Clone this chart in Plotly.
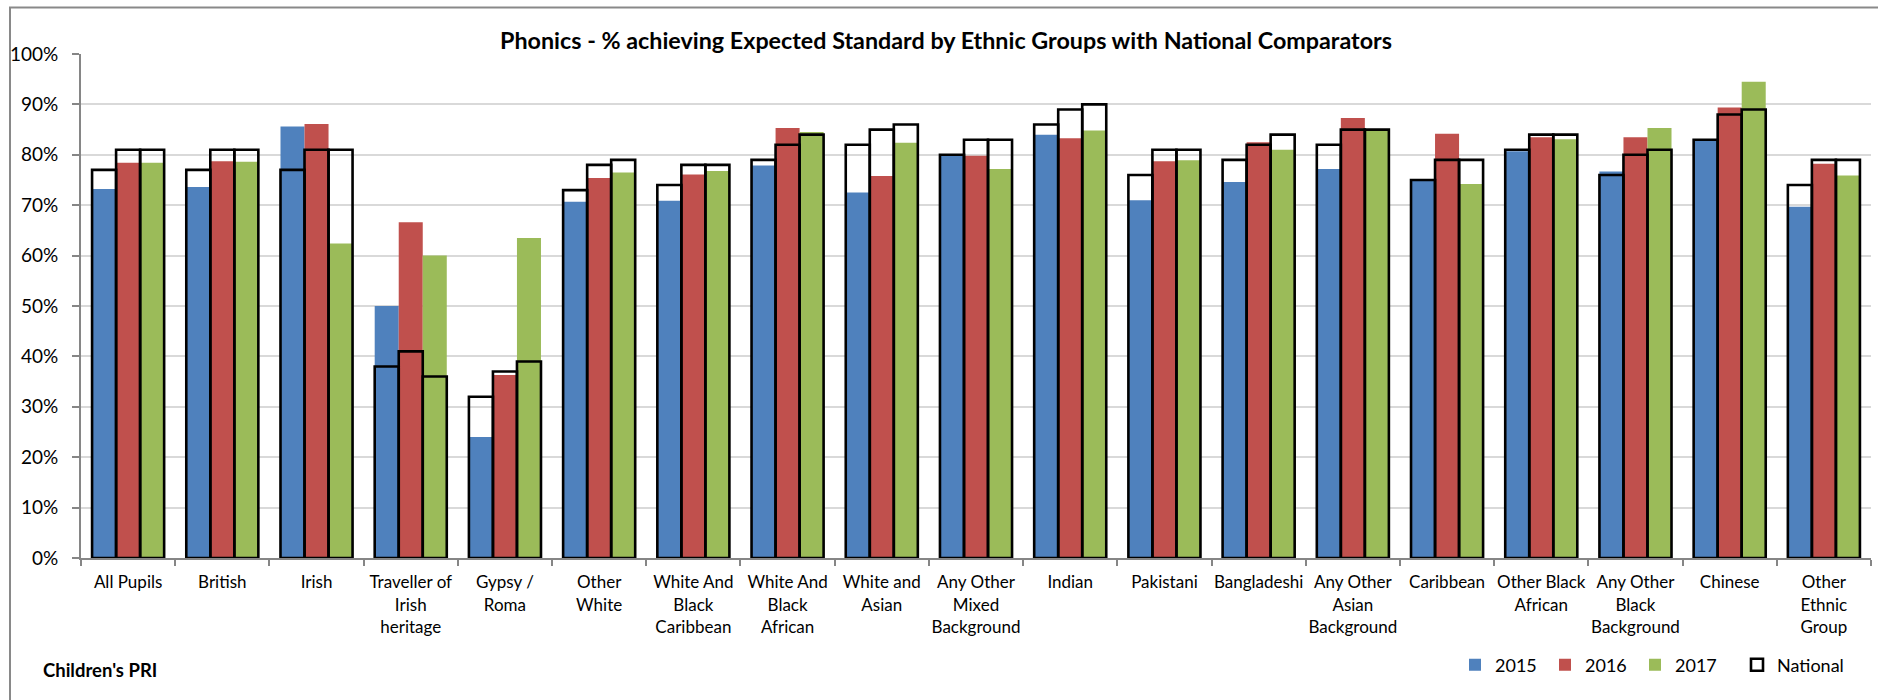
import plotly.graph_objects as go

# Ethnic groups on the category axis (line breaks as shown under each group)
categories = [
    "All Pupils", "British", "Irish", "Traveller of<br>Irish<br>heritage",
    "Gypsy /<br>Roma", "Other<br>White", "White And<br>Black<br>Caribbean",
    "White And<br>Black<br>African", "White and<br>Asian",
    "Any Other<br>Mixed<br>Background", "Indian", "Pakistani", "Bangladeshi",
    "Any Other<br>Asian<br>Background", "Caribbean", "Other Black<br>African",
    "Any Other<br>Black<br>Background", "Chinese", "Other<br>Ethnic<br>Group",
]

years = ["2015", "2016", "2017"]

# Local % achieving the expected standard
local_2015 = [73.2, 73.6, 85.6, 50.0, 24.0, 70.7, 70.9, 77.9, 72.5, 80.0,
              84.0, 71.0, 74.6, 77.2, 75.2, 80.7, 76.7, 83.0, 69.7]
local_2016 = [78.4, 78.7, 86.1, 66.6, 36.3, 75.4, 76.1, 85.3, 75.8, 79.8,
              83.3, 78.7, 82.5, 87.3, 84.2, 83.5, 83.5, 89.4, 78.2]
local_2017 = [78.4, 78.6, 62.4, 60.0, 63.5, 76.5, 76.8, 84.5, 82.4, 77.2,
              84.8, 78.9, 81.0, 84.8, 74.2, 83.1, 85.3, 94.5, 75.9]

# National comparators for the same years
national_2015 = [77, 77, 77, 38, 32, 73, 74, 79, 82, 80, 86, 76, 79, 82, 75, 81, 76, 83, 74]
national_2016 = [81, 81, 81, 41, 37, 78, 78, 82, 85, 83, 89, 81, 82, 85, 79, 84, 80, 88, 79]
national_2017 = [81, 81, 81, 36, 39, 79, 78, 84, 86, 83, 90, 81, 84, 85, 79, 84, 81, 89, 79]

y_ticks = list(range(0, 101, 10))

local_series = [local_2015, local_2016, local_2017]
national_series = [national_2015, national_2016, national_2017]
colors = ["#4F81BD", "#C0504D", "#9BBB59"]

FONT = "Lato, 'Open Sans', sans-serif"
BAR_W = 0.255
OFFSETS = [-0.3825, -0.1275, 0.1275]

# Figure geometry in pixels
W, H = 1878, 700
L, R, T, B = 81, 7, 54, 142
PW = W - L - R
PH = H - T - B


def px_x(x):
    return (x - L) / PW


def px_y(y):
    return (H - B - y) / PH


fig = go.Figure()

for yr, vals, col, off in zip(years, local_series, colors, OFFSETS):
    fig.add_trace(go.Bar(
        name=yr, x=categories, y=vals,
        width=BAR_W, offset=off,
        marker=dict(color=col, line=dict(width=0)),
        legend="legend",
    ))

for i, (yr, vals, off) in enumerate(zip(years, national_series, OFFSETS)):
    fig.add_trace(go.Bar(
        name="National", x=categories, y=vals,
        width=BAR_W, offset=off,
        marker=dict(color="rgba(255,255,255,0)", line=dict(color="#000000", width=2.6)),
        legendgroup="national", showlegend=(i == 0),
        legend="legend2",
    ))

legend_common = dict(
    orientation="h",
    xanchor="left",
    y=px_y(665), yanchor="middle",
    font=dict(family=FONT, size=18, color="#000000"),
    bgcolor="rgba(0,0,0,0)",
)

fig.update_layout(
    width=W, height=H,
    barmode="overlay",
    paper_bgcolor="white", plot_bgcolor="white",
    margin=dict(l=L, r=R, t=T, b=B, autoexpand=False),
    font=dict(family=FONT, size=17, color="#000000"),
    title=dict(
        text="<b>Phonics - % achieving Expected Standard by Ethnic Groups with National Comparators</b>",
        font=dict(family=FONT, size=23.3, color="#000000"),
        x=px_x(946), xref="paper", xanchor="center",
        y=1 - 41 / H, yref="container", yanchor="middle",
    ),
    legend=dict(
        **legend_common,
        x=px_x(1455),
        entrywidth=45, entrywidthmode="pixels",
        traceorder="normal",
    ),
    legend2=dict(
        **legend_common,
        x=px_x(1455 + 3 * 94),
    ),
    showlegend=True,
)

fig.update_xaxes(
    type="category",
    tickson="boundaries",
    ticks="outside", ticklen=6, tickcolor="#868686", tickwidth=1.5,
    showline=True, linecolor="#868686", linewidth=2,
    showgrid=False,
    tickfont=dict(family=FONT, size=17, color="#000000"),
    tickangle=0,
    ticklabelstandoff=8,
    range=[-0.5, len(categories) - 0.5],
)

fig.update_yaxes(
    range=[0, 100],
    tickvals=y_ticks,
    ticktext=[f"{v}%" for v in y_ticks],
    ticks="outside", ticklen=7, tickcolor="#868686", tickwidth=1.5,
    showline=True, linecolor="#868686", linewidth=2,
    showgrid=True, gridcolor="#D9D9D9", gridwidth=1.5,
    zeroline=False,
    tickfont=dict(family=FONT, size=19, color="#000000"),
    ticklabelstandoff=10,
)

# Chart frame (left and top edges)
fig.add_shape(
    type="rect", xref="paper", yref="paper",
    x0=px_x(10), x1=px_x(W + 20), y0=px_y(H + 20), y1=px_y(7.5),
    line=dict(color="#898989", width=2), fillcolor="rgba(0,0,0,0)",
    layer="above",
)

fig.add_annotation(
    text="<b>Children's PRI</b>",
    xref="paper", yref="paper",
    x=px_x(41), y=px_y(670), xanchor="left", yanchor="middle",
    showarrow=False,
    font=dict(family=FONT, size=18.5, color="#000000"),
)

fig.write_html("out.html")
